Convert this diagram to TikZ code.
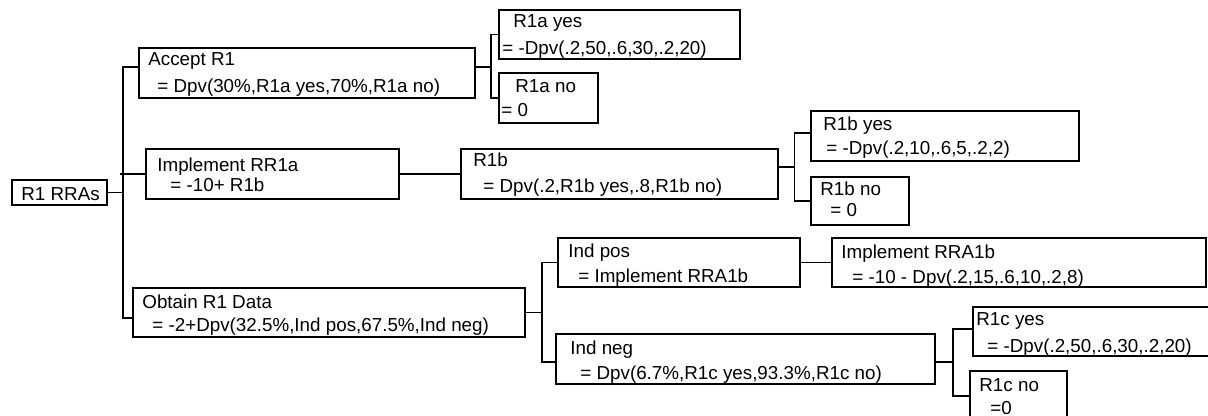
\documentclass[tikz,border=0pt]{standalone}
\usepackage{fontspec}
\setmainfont{Liberation Sans}
\begin{document}
\begin{tikzpicture}[x=0.5pt, y=-0.5pt,
        box/.style={draw, line width=0.9pt, anchor=north west, inner sep=0pt, outer sep=0pt},
        lbl/.style={anchor=base west, inner sep=0pt, font=\fontsize{9.4pt}{11pt}\selectfont},
        wire/.style={line width=0.9pt}]
    \useasboundingbox (0,0) rectangle (1208,416);
    % boxes
    \node[box, minimum width=47.5pt, minimum height=12.5pt] (rras) at (12,180) {};
    \node[box, minimum width=168pt, minimum height=25pt] (acc) at (139,48) {};
    \node[box, minimum width=126.5pt, minimum height=25pt] (impa) at (146,149) {};
    \node[box, minimum width=196pt, minimum height=24.5pt] (obt) at (133,288) {};
    \node[box, minimum width=120.5pt, minimum height=24.5pt] (ayes) at (499,10) {};
    \node[box, minimum width=49.5pt, minimum height=25pt] (ano) at (499,73) {};
    \node[box, minimum width=158.5pt, minimum height=25pt] (r1b) at (461,149) {};
    \node[box, minimum width=134pt, minimum height=25pt] (byes) at (811,111) {};
    \node[box, minimum width=49pt, minimum height=24pt] (bno) at (811,177) {};
    \node[box, minimum width=121pt, minimum height=24.5pt] (ipos) at (558,238) {};
    \node[box, minimum width=189.5pt, minimum height=25pt] (ineg) at (556,334) {};
    \node[box, minimum width=187pt, minimum height=24.5pt] (irra) at (832,238) {};
    \node[box, minimum width=123.5pt, minimum height=24.5pt] (cyes) at (973,307) {};
    \node[box, minimum width=48.5pt, minimum height=25pt] (cno) at (970,371) {};
    % texts
    \node[lbl] (rras-a) at (21,201) {R1 RRAs};
    \node[lbl] (acc-a) at (148,66) {Accept R1};
    \node[lbl] (acc-b) at (157,93) {= Dpv(30\%,R1a yes,70\%,R1a no)};
    \node[lbl] (impa-a) at (157,172) {Implement RR1a};
    \node[lbl] (impa-b) at (170,192) {= -10+ R1b};
    \node[lbl] (obt-a) at (142,308) {Obtain R1 Data};
    \node[lbl] (obt-b) at (152,331) {= -2+Dpv(32.5\%,Ind pos,67.5\%,Ind neg)};
    \node[lbl] (ayes-a) at (513,28) {R1a yes};
    \node[lbl] (ayes-b) at (502,55) {= -Dpv(.2,50,.6,30,.2,20)};
    \node[lbl] (ano-a) at (515,93) {R1a no};
    \node[lbl] (ano-b) at (501,117) {= 0};
    \node[lbl] (r1b-a) at (473,167) {R1b};
    \node[lbl] (r1b-b) at (483,193) {= Dpv(.2,R1b yes,.8,R1b no)};
    \node[lbl] (byes-a) at (823,131) {R1b yes};
    \node[lbl] (byes-b) at (826,155) {= -Dpv(.2,10,.6,5,.2,2)};
    \node[lbl] (bno-a) at (820,196) {R1b no};
    \node[lbl] (bno-b) at (830,217) {= 0};
    \node[lbl] (ipos-a) at (568,258) {Ind pos};
    \node[lbl] (ipos-b) at (578,283) {= Implement RRA1b};
    \node[lbl] (ineg-a) at (570,354) {Ind neg};
    \node[lbl] (ineg-b) at (580,379) {= Dpv(6.7\%,R1c yes,93.3\%,R1c no)};
    \node[lbl] (irra-a) at (841,259) {Implement RRA1b};
    \node[lbl] (irra-b) at (852,284) {= -10 - Dpv(.2,15,.6,10,.2,8)};
    \node[lbl] (cyes-a) at (976,326) {R1c yes};
    \node[lbl] (cyes-b) at (987,352) {= -Dpv(.2,50,.6,30,.2,20)};
    \node[lbl] (cno-a) at (979,391) {R1c no};
    \node[lbl] (cno-b) at (990,414) {=0};
    % connectors
    \coordinate (j1) at (123,192.5);
    \coordinate (j1s) at (120,174);
    \draw[wire] (rras.east) -- (j1);
    \draw[wire] ([yshift=3pt]acc.west) -| (j1) |- ([yshift=-2.75pt]obt.west);
    \draw[wire] (j1s) -- (impa.west);
    \coordinate (j2) at (491,67);
    \draw[wire] ([yshift=3pt]acc.east) -- (j2);
    \draw[wire] (ayes.west) -| (j2) |- (ano.west);
    \draw[wire] (impa.east) -- (r1b.west);
    \coordinate (j3) at (794.5,167);
    \draw[wire] ([yshift=3.5pt]r1b.east) -- (j3);
    \draw[wire] ([yshift=1.5pt]byes.west) -| (j3) |- (bno.west);
    \coordinate (j4) at (542,312.5);
    \draw[wire] (obt.east) -- (j4);
    \draw[wire] (ipos.west) -| (j4) |- ([yshift=-1.5pt]ineg.west);
    \draw[wire] (ipos.east) -- (irra.west);
    \coordinate (j5) at (953,362);
    \draw[wire] ([yshift=-1.5pt]ineg.east) -- (j5);
    \draw[wire] ([yshift=1.25pt]cyes.west) -| (j5) |- (cno.west);
\end{tikzpicture}
\end{document}
